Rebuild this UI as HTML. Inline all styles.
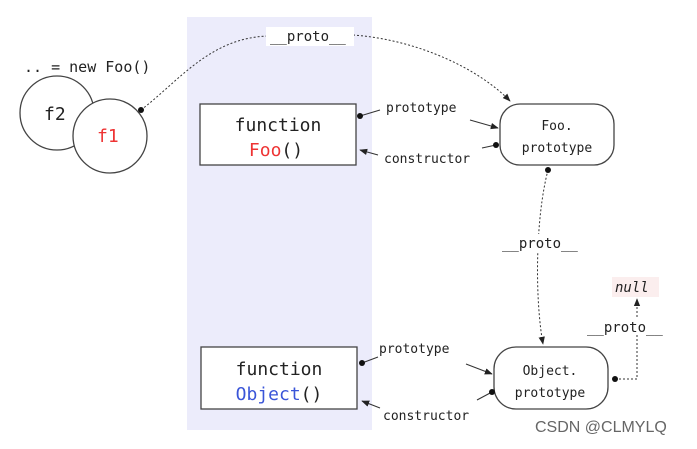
<!DOCTYPE html>
<html><head><meta charset="utf-8"><style>
body{margin:0;background:#fff;}
svg text{font-family:"DejaVu Sans Mono","Liberation Mono",monospace;fill:#222;}
</style></head><body>
<svg width="697" height="444" viewBox="0 0 697 444" xmlns="http://www.w3.org/2000/svg">
<defs>
<marker id="a" viewBox="0 0 10 10" refX="9" refY="5" markerWidth="8" markerHeight="8" orient="auto"><path d="M0,1 L10,5 L0,9 z" fill="#222"/></marker>
</defs>
<rect x="187" y="17" width="185" height="413" fill="#ececfb"/>
<text x="24" y="72" font-size="15">.. = new Foo()</text>
<circle cx="57" cy="113" r="37" fill="#fff" stroke="#444" stroke-width="1.3"/>
<circle cx="110" cy="136" r="37" fill="#fff" stroke="#444" stroke-width="1.3"/>
<text x="44" y="120" font-size="18">f2</text>
<text x="97" y="142" font-size="18" style="fill:#e33">f1</text>
<!-- top proto -->
<path d="M141,110 C180,80 210,38 268,36" fill="none" stroke="#333" stroke-dasharray="2,2"/>
<path d="M353,35 C420,40 480,70 510,101" fill="none" stroke="#333" stroke-dasharray="2,2" marker-end="url(#a)"/>
<circle cx="141" cy="110" r="3" fill="#111"/>
<rect x="266" y="27" width="88" height="19" fill="#fff"/>
<text x="270" y="41" font-size="14">__proto__</text>
<!-- Foo box -->
<rect x="200" y="104" width="156" height="61" fill="#fff" stroke="#444" stroke-width="1.3"/>
<text x="278" y="131" font-size="18" text-anchor="middle">function</text>
<text x="276" y="156" font-size="18" text-anchor="middle"><tspan style="fill:#e33">Foo</tspan>()</text>
<rect x="500" y="104" width="114" height="61" rx="20" fill="#fff" stroke="#444" stroke-width="1.3"/>
<text x="557" y="130" font-size="13" text-anchor="middle">Foo.</text>
<text x="557" y="152" font-size="13" text-anchor="middle">prototype</text>
<path d="M360,116 L380,110" stroke="#333"/><circle cx="360" cy="116" r="3" fill="#111"/>
<text x="386" y="112" font-size="13">prototype</text>
<path d="M470,120 L498,128" stroke="#333" marker-end="url(#a)"/>
<path d="M496,145 L482,148" stroke="#333"/><circle cx="496" cy="145" r="3" fill="#111"/>
<text x="384" y="163" font-size="13">constructor</text>
<path d="M378,155 L360,150" stroke="#333" marker-end="url(#a)"/>
<!-- vertical proto -->
<path d="M548,170 C535,220 535,300 543,344" fill="none" stroke="#333" stroke-dasharray="2,2" marker-end="url(#a)"/>
<circle cx="548" cy="170" r="3" fill="#111"/>
<rect x="500" y="234" width="80" height="18" fill="#fff"/>
<text x="502" y="248" font-size="14">__proto__</text>
<!-- Object box -->
<rect x="201" y="347" width="156" height="62" fill="#fff" stroke="#444" stroke-width="1.3"/>
<text x="279" y="375" font-size="18" text-anchor="middle">function</text>
<text x="279" y="400" font-size="18" text-anchor="middle"><tspan style="fill:#3a55d8">Object</tspan>()</text>
<rect x="494" y="347" width="114" height="62" rx="22" fill="#fff" stroke="#444" stroke-width="1.3"/>
<text x="550" y="375" font-size="13" text-anchor="middle">Object.</text>
<text x="550" y="397" font-size="13" text-anchor="middle">prototype</text>
<path d="M362,363 L378,357" stroke="#333"/><circle cx="362" cy="363" r="3" fill="#111"/>
<text x="379" y="353" font-size="13">prototype</text>
<path d="M466,364 L492,374" stroke="#333" marker-end="url(#a)"/>
<path d="M492,392 L477,400" stroke="#333"/><circle cx="492" cy="392" r="3" fill="#111"/>
<text x="383" y="420" font-size="13">constructor</text>
<path d="M380,408 L362,401" stroke="#333" marker-end="url(#a)"/>
<!-- null -->
<path d="M615,379 L637,379 L637,299" fill="none" stroke="#333" stroke-dasharray="2,2" marker-end="url(#a)"/>
<circle cx="615" cy="379" r="3" fill="#111"/>
<rect x="612" y="277" width="47" height="20" fill="#fbeeee"/>
<text x="615" y="292" font-size="14" font-style="italic">null</text>
<rect x="587" y="318" width="80" height="17" fill="#fff"/>
<text x="587" y="332" font-size="14">__proto__</text>
<text x="535" y="432" font-size="16" style="font-family:'Liberation Sans',sans-serif;fill:#666">CSDN @CLMYLQ</text>
</svg>
</body></html>
